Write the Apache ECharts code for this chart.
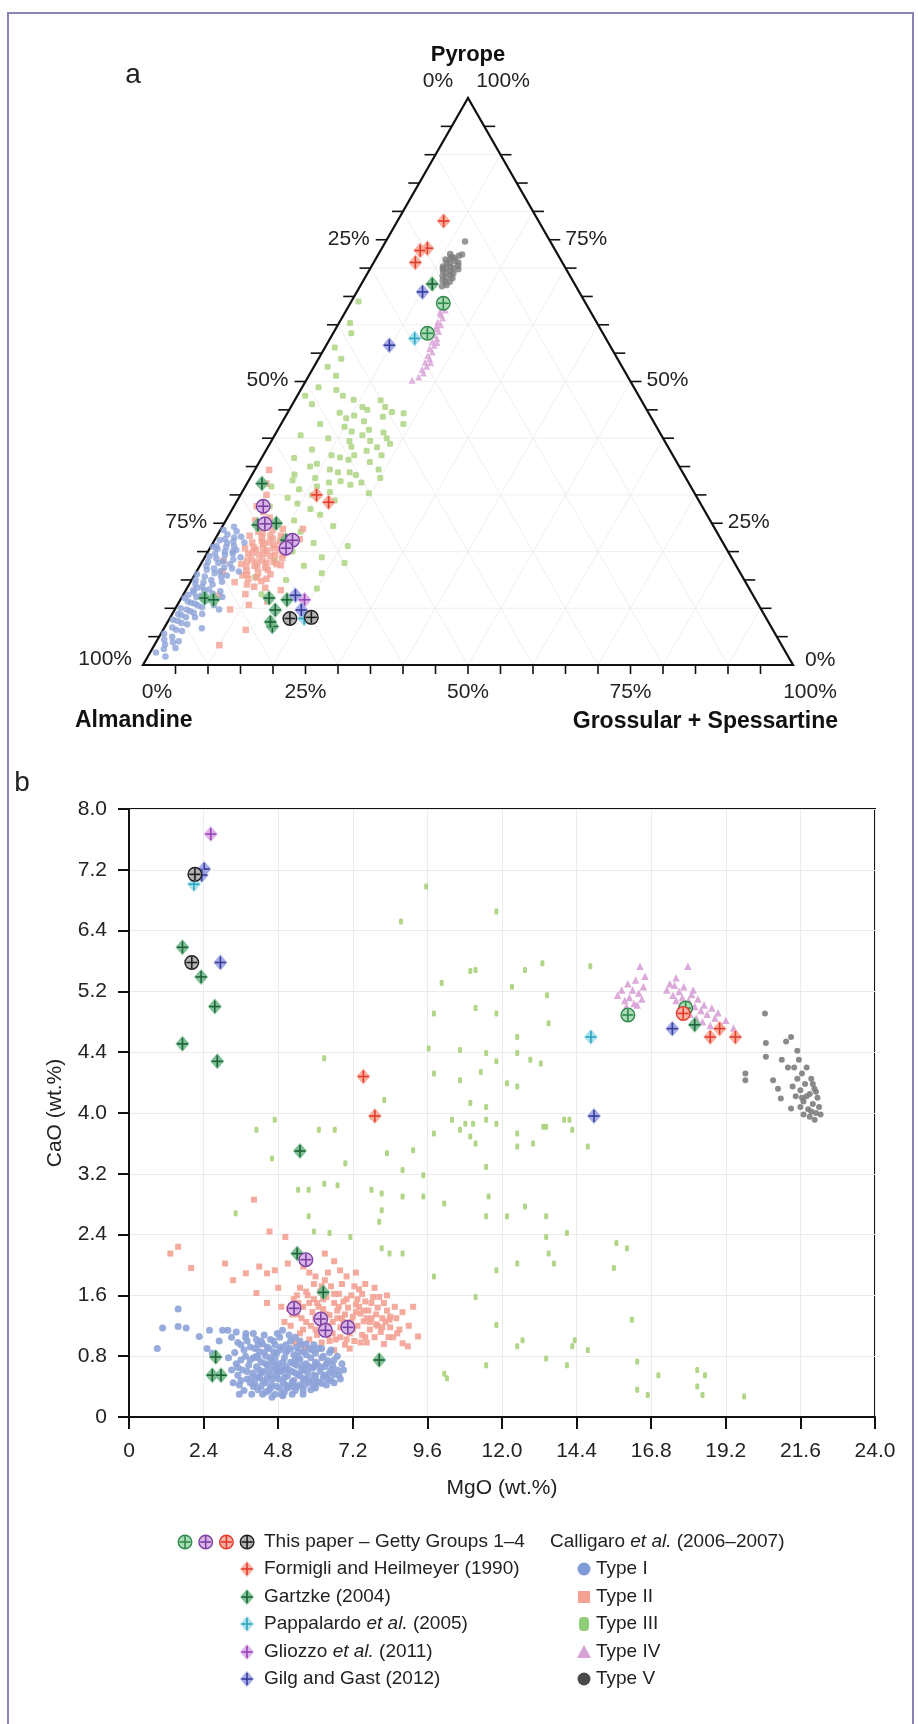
<!DOCTYPE html>
<html><head><meta charset="utf-8">
<script src="https://cdn.jsdelivr.net/npm/echarts/dist/echarts.min.js"></script>
<style>html,body{margin:0;padding:0;background:#fff}#c{width:918px;height:1724px}</style>
</head><body><div id="c"></div><script>
// ---------- DATA ----------
// Panel a (ternary): [Grossular+Spessartine %, Pyrope %]  (Almandine = rest)
const typeI_t = [[1.8,24.4],[0.5,23.8],[1.5,23],[2.8,22.5],[0.8,22],[2.2,21.5],[3.5,21],[1.2,20.5],[2.6,20],[4,19.6],[0.6,19.2],[1.9,18.8],[3.2,18.3],[4.5,17.8],[1,17.5],[2.4,17],[3.6,16.5],[0.3,16],[1.7,15.6],[3,15],[4.8,14.7],[0.9,14.3],[2.2,13.8],[3.5,13.3],[1.4,12.8],[2.8,12.2],[0.5,11.8],[4.2,11.5],[1.9,11],[3.2,10.5],[0.8,10],[2.5,9.5],[1.5,8.8],[3.8,8.4],[0.6,8],[2.2,7.4],[1.2,6.6],[3,6],[0.5,5.5],[2,5],[1.6,3.6],[3.5,3],[0.9,2.2],[2.7,1.5],[5.5,19],[5,15.8],[6.2,12],[4.6,9],[5.8,6.5],[2.6,23.6],[3.8,22.6],[0.4,20.8],[4.2,20.3],[1.1,13.2],[5.4,13],[6.5,16.5],[3.4,4.2],[6.8,9.8],[1.5,22.2],[3,21.8],[0.8,21],[2.4,20.8],[3.8,20],[1.3,19.6],[2.9,19.4],[4.6,18.6],[0.9,18.2],[2.6,18],[3.9,17.2],[1.4,16.8],[2.9,16.2],[4.2,15.6],[0.6,15],[2,14.6],[3.6,14.2],[1.5,13.6],[2.8,13.2],[4.4,12.6],[0.8,12.4],[2.2,12],[3.4,11.6],[1.3,11.2],[2.6,10.8],[4,10.2],[1.8,9.8],[3.2,9.2],[0.9,9],[2.4,8.4],[1.4,7.8],[3.2,7.2],[2,6.2],[1,4.5],[2.6,4],[1.8,2.8],[4.8,21.6],[5.2,17],[5.6,10.6]];
const typeII_t = [[2.2,34.4],[3,32],[4,30],[3.5,28],[5,27],[4.5,25.5],[6.5,26],[5.5,24.5],[7.5,24.8],[6,23.5],[8,23.8],[9.5,24],[5,22.8],[7,22.5],[8.8,22.3],[10.5,22.6],[6,21.6],[7.8,21.4],[9.6,21.2],[11.4,21.5],[5.4,20.6],[7.2,20.4],[9,20.2],[10.8,20.5],[12.2,20.8],[6.4,19.6],[8.2,19.4],[10,19.2],[11.8,19.5],[7.4,18.6],[9.2,18.4],[11,18.2],[6.2,17.8],[8.4,17.5],[10.2,17.2],[12.4,17.6],[7.6,16.6],[9.6,16.2],[11.6,16],[8.6,15.2],[10.8,14.8],[6.8,14.6],[14.6,13.2],[12,13.6],[9.5,12.5],[12.7,6.2],[10,3.5],[8.5,9.8],[11,10.6],[13.5,11.2],[5.5,12.2],[4,16.5],[13,22.2],[12.6,24],[3.2,18.4],[6.8,23.2],[8.2,22.8],[9.8,22.8],[7.4,21.8],[8.6,21.6],[10.2,21.8],[6.6,20.8],[8.2,20.6],[9.8,20.6],[11.2,20.2],[7,19.8],[8.8,19.6],[10.6,19.4],[12,18.8],[6.8,18.4],[8.4,18.2],[10,18],[11.6,17.8],[7.2,17.4],[9,17.2],[10.8,16.8],[8,16],[9.8,15.4],[7.4,15.8],[11.4,15.2],[8.9,14.2],[10.2,13.8]];
const typeIII_t = [[1.1,64.1],[1.7,60.3],[2.1,52.6],[1.5,56],[2.8,58.5],[3.5,54],[4.2,51],[2.5,49],[1.2,47.5],[3,46],[5.5,48.5],[7,47.5],[9,46.8],[13.2,46.7],[11,45.5],[8,44.5],[17.9,44.4],[15,43.8],[12.5,43],[6,42.5],[10,42],[14,41.5],[16.5,41],[4,40.5],[8.5,40],[12,39.5],[18.5,39],[12.8,38.5],[7,38],[15.5,37.8],[10.5,37],[5,36.5],[13.5,36.2],[17,35.8],[9,35.5],[8.2,35],[11.5,34.5],[14.8,34],[6.5,33.6],[19.6,30.3],[10,33],[6.7,32.6],[12.5,32.2],[16,31.8],[4,31.5],[8.5,31],[13.5,30.5],[11,30],[7.5,29.5],[15,29],[9.5,28.5],[5.5,28],[12,27.5],[14,26.5],[10.5,25.5],[17,24.5],[12.5,23.5],[19.4,16.2],[15.5,21.5],[13,20],[18,19],[11,18.5],[16,17.5],[21,21],[14.5,15],[20,13.5],[17.5,12],[12,12.5],[9.5,15.5],[22,18],[10.5,44],[12,45],[14.5,45.5],[16,44.6],[18.8,42.5],[17.5,40],[15.2,39.5],[13.5,40.5],[11.5,41.2],[9.5,43.5],[16.8,38.4],[14,37],[12,36.6],[18.2,37],[19,34.5],[16,33.5],[14.2,32.4],[17.5,32.2],[20,33],[13,34],[11,31.5]];
const typeIV_t = [[14.2,64.5],[14.8,63.8],[14.5,63],[15.2,62.6],[14.9,61.8],[15.5,61.2],[15.1,60.5],[15.8,60],[15.4,59.3],[16.1,58.8],[15.7,58.2],[16.4,57.6],[16,57],[16.6,56.4],[16.2,55.8],[16.9,55.2],[16.5,54.6],[17.1,54],[16.7,53.4],[17.3,52.7],[16.9,52.1],[17.4,51.5],[17,50.8],[15.3,59.8],[16.8,56.9],[14.6,62.2],[17.6,53.3],[16.3,50.2]];
const typeV_t = [[12.2,74.7],[11,72.5],[11.5,72],[12,71.8],[12.5,72.2],[10.8,71.5],[11.2,71],[11.8,70.8],[12.4,71.2],[13,71],[11,70.3],[11.6,70],[12.2,70.2],[12.8,70],[13.3,70.4],[11.4,69.5],[12,69.2],[12.6,69.4],[13.2,69.1],[11.8,68.6],[12.4,68.4],[13,68.7],[13.5,68.2],[12.2,67.8],[12.8,67.5],[13.4,67.6],[12.6,66.8],[13.2,67],[11.5,71.6],[12.9,72.4],[13.6,69.8],[11.2,69.9]];
const thisGreen_t = [[14.3,63.8],[14.5,58.5]];
const thisPurple_t = [[4.5,28.0],[6.3,24.9],[12.0,22.0],[11.7,20.6]];
const thisRed_t = [];
const thisBlack_t = [[18.5,8.2],[21.7,8.4]];
const formigli_t = [[7.1,78.3],[7.0,73.5],[6.1,73.1],[6.4,71.0],[11.7,30.0],[14.2,28.7]];
const gartzke_t = [[10.9,67.2],[2.3,32.0],[5.3,24.7],[8.0,25.0],[11.0,22.0],[3.6,11.8],[5.1,11.5],[13.5,11.8],[16.4,11.5],[15.5,9.7],[16.5,6.8],[15.8,7.6]];
const pappalardo_t = [[13.0,57.6],[20.7,8.2]];
const gliozzo_t = [[19.1,11.5]];
const gilg_t = [[10.1,65.8],[9.7,56.4],[17.3,12.3],[19.5,9.7]];

// Panel b: [MgO wt.%, CaO wt.%]
const typeI_b = [[0.91,0.90],[1.08,1.17],[1.58,1.19],[1.84,1.17],[1.58,1.42],[2.26,1.06],[2.59,1.14],[3.01,1.14],[3.18,1.14],[2.51,0.90],[2.68,0.84],[3.76,1.10],[4.77,1.10],[4.94,1.14],[2.9,1.0],[3.3,1.05],[3.5,0.98],[3.4,0.85],[3.45,0.7],[3.5,0.55],[3.55,0.42],[3.6,0.95],[3.65,0.62],[3.7,0.35],[3.75,0.8],[3.8,0.5],[3.85,0.68],[3.9,0.92],[3.95,0.3],[4.0,0.58],[4.0,0.78],[4.05,0.44],[4.1,1.02],[4.1,0.66],[4.15,0.36],[4.2,0.86],[4.2,0.52],[4.25,0.72],[4.3,0.3],[4.3,0.96],[4.35,0.6],[4.4,0.45],[4.4,0.8],[4.45,0.68],[4.5,0.35],[4.5,0.9],[4.55,0.55],[4.6,0.74],[4.6,0.42],[4.65,1.0],[4.7,0.62],[4.7,0.3],[4.75,0.84],[4.8,0.5],[4.8,0.7],[4.85,0.38],[4.9,0.92],[4.9,0.6],[4.95,0.46],[5.0,0.78],[5.0,0.33],[5.05,0.66],[5.1,0.54],[5.1,0.88],[5.15,0.4],[5.2,0.72],[5.2,1.0],[5.25,0.6],[5.3,0.48],[5.3,0.82],[5.35,0.35],[5.4,0.68],[5.4,0.92],[5.45,0.55],[5.5,0.42],[5.5,0.76],[5.55,0.62],[5.6,0.86],[5.6,0.36],[5.65,0.5],[5.7,0.7],[5.75,0.58],[5.8,0.45],[5.8,0.9],[5.85,0.78],[5.9,0.64],[5.95,0.4],[6.0,0.54],[6.0,0.84],[6.05,0.7],[6.1,0.46],[6.15,0.6],[6.2,0.78],[6.25,0.52],[6.3,0.66],[6.35,0.42],[6.4,0.74],[6.45,0.58],[6.5,0.48],[6.55,0.68],[6.6,0.56],[6.7,0.62],[6.8,0.5],[6.85,0.7],[3.6,0.75],[3.9,0.45],[4.15,0.95],[4.45,0.52],[4.65,0.86],[4.85,0.64],[5.05,0.95],[5.25,0.3],[5.45,0.86],[5.7,0.96],[4.25,0.4],[3.8,1.0],[4.55,1.02],[5.95,0.95],[6.2,0.9],[3.45,1.12],[4.0,1.1],[4.35,1.08],[5.35,1.05],[3.3,0.62],[3.35,0.45],[3.2,0.78],[4.95,0.28],[4.6,0.26],[5.6,0.3],[6.0,0.38],[6.6,0.75],[6.5,0.88],[3.5,0.65],[3.6,0.48],[3.7,0.88],[3.8,0.6],[3.9,0.75],[4.0,0.4],[4.05,0.9],[4.1,0.52],[4.15,0.78],[4.2,0.62],[4.25,1.0],[4.3,0.48],[4.35,0.85],[4.4,0.33],[4.45,0.92],[4.5,0.62],[4.55,0.78],[4.6,0.5],[4.65,0.68],[4.7,0.95],[4.75,0.4],[4.8,0.6],[4.85,0.88],[4.9,0.3],[4.95,0.72],[5.0,0.52],[5.05,0.85],[5.1,0.38],[5.15,0.62],[5.2,0.9],[5.25,0.46],[5.3,0.7],[5.35,0.58],[5.4,0.4],[5.45,0.78],[5.5,0.55],[5.55,0.95],[5.6,0.68],[5.65,0.42],[5.7,0.82],[5.75,0.5],[5.8,0.66],[5.85,0.36],[5.9,0.88],[5.95,0.55],[6.0,0.72],[6.05,0.46],[6.1,0.9],[6.15,0.66],[6.2,0.44],[6.25,0.8],[6.3,0.55],[6.35,0.7],[6.4,0.5],[6.45,0.85],[6.5,0.62],[6.6,0.45],[6.7,0.8],[6.75,0.55],[6.9,0.62],[3.55,0.3],[3.75,1.05],[4.85,1.05],[5.15,1.08],[5.5,1.0],[3.95,0.52],[4.25,0.58],[4.55,0.38],[4.75,0.55],[5.05,0.42],[5.35,0.75],[5.65,0.62],[5.95,0.66],[4.1,0.8],[4.4,0.7],[4.7,0.78],[5.0,0.62],[5.3,0.4],[5.6,0.5],[5.9,0.48]];
const typeII_b = [[4.02,2.86],[1.33,2.15],[1.58,2.24],[2.0,1.96],[3.09,2.02],[4.52,2.44],[5.03,2.37],[4.19,1.98],[4.44,1.89],[4.69,1.93],[5.11,2.02],[5.61,1.98],[3.35,1.80],[3.76,1.89],[6.79,1.93],[9.14,1.45],[9.30,1.06],[8.80,0.97],[8.97,0.93],[8.38,1.28],[8.63,1.10],[4.10,1.63],[4.44,1.50],[6.3,2.15],[6.6,2.05],[7.0,1.85],[7.3,1.9],[4.8,1.7],[4.9,1.45],[5.2,1.2],[5.3,1.55],[5.4,1.35],[5.5,1.7],[5.5,1.1],[5.6,1.45],[5.7,1.25],[5.75,1.6],[5.8,1.02],[5.9,1.38],[5.95,1.75],[6.0,1.15],[6.05,1.5],[6.1,1.3],[6.15,1.65],[6.2,0.98],[6.25,1.42],[6.3,1.2],[6.35,1.58],[6.4,1.08],[6.45,1.34],[6.5,1.72],[6.55,1.25],[6.6,1.5],[6.65,1.02],[6.7,1.4],[6.75,1.62],[6.8,1.18],[6.85,1.3],[6.9,1.52],[6.95,0.95],[7.0,1.22],[7.05,1.44],[7.1,1.1],[7.15,1.6],[7.2,1.32],[7.25,1.0],[7.3,1.48],[7.35,1.2],[7.4,1.68],[7.45,1.36],[7.5,1.08],[7.55,1.26],[7.6,1.52],[7.65,0.98],[7.7,1.4],[7.75,1.15],[7.8,1.3],[7.85,1.58],[7.9,1.05],[7.95,1.22],[8.0,1.44],[8.1,1.12],[8.15,1.3],[8.2,0.96],[8.3,1.4],[8.4,1.18],[8.5,1.05],[8.6,1.3],[8.7,1.15],[5.35,0.98],[5.65,0.9],[6.0,1.85],[5.8,1.9],[6.4,1.9],[7.6,1.75],[7.9,1.7],[8.3,1.6],[5.15,1.42],[5.0,1.25],[7.1,0.9],[6.6,0.88],[8.8,1.38],[9.0,1.2],[5.4,1.6],[5.6,1.15],[5.8,1.5],[6.0,1.3],[6.2,1.72],[6.4,1.2],[6.6,1.62],[6.8,1.05],[7.0,1.55],[7.2,1.15],[7.4,1.45],[7.6,1.05],[7.8,1.5],[8.0,1.2],[8.2,1.5],[8.4,1.32],[5.55,1.3],[5.85,1.2],[6.1,1.45],[6.35,1.35],[6.55,1.1],[6.75,1.45],[6.95,1.35],[7.15,1.25],[7.35,1.55],[7.55,1.4],[7.75,1.25],[7.95,1.35],[8.15,1.18],[8.35,1.05],[5.25,1.35],[5.45,1.5],[5.7,1.65],[6.3,1.8],[6.85,1.75],[7.25,1.72],[7.5,1.62],[8.05,1.58],[8.55,1.45],[6.45,1.0],[7.0,1.02],[7.45,0.98],[6.05,1.08],[6.25,1.55],[6.9,1.25],[7.65,1.3],[8.25,1.25],[5.95,1.55],[6.7,1.3],[7.3,1.38]];
const typeIII_b = [[14.84,5.93],[13.30,5.97],[12.74,5.88],[13.45,5.55],[12.32,5.66],[11.15,5.88],[10.98,5.87],[11.82,5.31],[11.15,5.38],[9.81,5.31],[10.06,5.71],[13.50,5.18],[12.49,5.00],[11.49,4.79],[10.65,4.83],[9.64,4.85],[12.49,4.79],[12.91,4.70],[13.25,4.65],[11.82,4.68],[10.65,4.43],[9.81,4.52],[11.32,4.54],[12.16,4.39],[12.49,4.35],[10.98,4.13],[11.49,4.08],[8.21,4.17],[7.80,3.95],[13.33,3.82],[14.17,3.91],[10.39,3.91],[10.82,3.86],[6.28,4.72],[8.75,6.52],[11.82,6.65],[9.56,6.98],[4.69,3.91],[4.10,3.78],[4.60,3.40],[6.11,3.78],[6.62,3.78],[6.96,3.34],[8.30,3.47],[9.14,3.51],[8.80,3.25],[9.47,3.18],[5.44,2.99],[5.78,2.99],[6.28,3.07],[6.71,3.05],[7.80,2.99],[8.13,2.94],[8.80,2.90],[9.47,2.90],[10.14,2.81],[8.13,2.72],[8.05,2.57],[5.78,2.64],[3.43,2.68],[5.95,2.44],[6.45,2.42],[7.12,2.37],[8.13,2.22],[8.38,2.15],[8.80,2.15],[9.81,1.85],[11.15,1.58],[11.07,3.86],[11.49,3.91],[11.82,3.86],[9.81,3.73],[10.65,3.78],[10.98,3.69],[11.15,3.60],[12.49,3.73],[13.0,3.60],[12.49,3.56],[13.42,3.82],[14.0,3.91],[14.26,3.78],[14.76,3.56],[11.49,3.29],[11.57,2.90],[12.16,2.64],[11.49,2.64],[12.74,2.77],[13.42,2.64],[14.09,2.42],[13.42,2.37],[15.68,2.29],[16.02,2.22],[13.67,2.02],[12.49,2.02],[11.82,1.93],[15.60,1.96],[16.18,1.28],[11.82,1.21],[12.66,1.01],[12.49,0.93],[14.34,1.01],[14.26,0.93],[14.76,0.88],[13.42,0.77],[11.49,0.68],[10.14,0.57],[10.23,0.51],[16.35,0.73],[17.03,0.55],[16.35,0.36],[16.69,0.29],[18.28,0.62],[18.53,0.55],[18.28,0.40],[18.45,0.29],[19.79,0.27],[14.09,0.68],[13.50,2.15]];
const typeIV_b = [[15.72,5.55],[15.85,5.62],[15.95,5.48],[16.05,5.7],[16.1,5.52],[16.2,5.62],[16.25,5.44],[16.3,5.75],[16.4,5.58],[16.44,5.93],[16.5,5.5],[16.55,5.66],[16.6,5.8],[16.0,5.4],[16.35,5.42],[17.3,5.62],[17.4,5.7],[17.5,5.55],[17.55,5.68],[17.6,5.48],[17.7,5.6],[17.75,5.42],[17.8,5.52],[17.85,5.66],[17.9,5.35],[17.98,5.93],[18.0,5.48],[18.05,5.3],[18.1,5.56],[18.2,5.4],[18.25,5.25],[18.3,5.5],[18.4,5.35],[18.45,5.2],[18.5,5.42],[18.6,5.3],[18.7,5.15],[18.75,5.38],[18.85,5.25],[18.95,5.32],[19.05,5.15],[19.2,5.22],[19.45,5.12],[17.6,5.78],[18.15,5.62]];
const typeV_b = [[20.46,5.31],[19.83,4.52],[19.83,4.43],[20.49,4.92],[20.49,4.74],[21.14,4.94],[21.30,5.0],[20.72,4.43],[20.88,4.32],[20.97,4.19],[21.30,4.06],[22.06,3.91],[21.4,4.6],[21.5,4.45],[21.55,4.7],[21.6,4.3],[21.65,4.52],[21.7,4.15],[21.75,4.38],[21.8,4.6],[21.85,4.05],[21.9,4.25],[21.95,4.45],[22.0,4.12],[22.05,4.32],[22.1,4.0],[22.15,4.2],[22.2,4.08],[22.25,3.98],[21.6,4.08],[21.7,3.98],[21.8,4.22],[21.9,3.95],[22.0,4.38],[21.45,4.22],[21.5,4.82],[21.35,4.35],[21.2,4.6],[21.0,4.7],[21.95,4.02],[22.1,4.28],[21.65,4.2]];
const thisGreen_b = [[16.05,5.29],[17.91,5.38]];
const thisPurple_b = [[5.69,2.07],[5.31,1.43],[6.17,1.29],[6.32,1.14],[7.04,1.18]];
const thisRed_b = [[17.83,5.31]];
const thisBlack_b = [[2.12,7.14],[2.02,5.98]];
const formigli_b = [[7.54,4.48],[7.91,3.96],[19.0,5.11],[18.70,5.00],[19.51,5.00]];
const gartzke_b = [[1.72,6.18],[2.32,5.79],[2.76,5.40],[1.72,4.91],[2.84,4.68],[18.20,5.16],[5.50,3.50],[5.41,2.15],[6.25,1.64],[8.05,0.75],[2.79,0.79],[2.68,0.55],[2.96,0.55]];
const pappalardo_b = [[2.09,7.01],[14.86,5.00]];
const gliozzo_b = [[2.63,7.67]];
const gilg_b = [[2.42,7.21],[2.34,7.13],[2.94,5.98],[14.96,3.96],[17.48,5.11]];

// Tick labels
const ternLeftLabels = ['0%','25%','50%','75%','100%'];     // top -> bottom
const ternRightLabels = ['100%','75%','50%','25%','0%'];    // top -> bottom
const ternBottomLabels = ['0%','25%','50%','75%','100%'];   // left -> right
const xTickLabels = ['0','2.4','4.8','7.2','9.6','12.0','14.4','16.8','19.2','21.6','24.0'];
const yTickLabels = ['0','0.8','1.6','2.4','3.2','4.0','4.4','5.2','6.4','7.2','8.0'];

// ---------- STYLE ----------
const FONT = '"Liberation Sans", Arial, sans-serif';
const TXT = '#222';
const SRC = {
  thisGreen:  {kind:'circle',  stroke:'#2f8a4c', fill:'#a9dbb4'},
  thisPurple: {kind:'circle',  stroke:'#7d3fa3', fill:'#d9b6e8'},
  thisRed:    {kind:'circle',  stroke:'#e5392a', fill:'#f7b2a6'},
  thisBlack:  {kind:'circle',  stroke:'#1e1e1e', fill:'#b4b4b4'},
  formigli:   {kind:'diamond', stroke:'#e5392a', fill:'#f7a897'},
  gartzke:    {kind:'diamond', stroke:'#1d6337', fill:'#72b98c'},
  pappalardo: {kind:'diamond', stroke:'#2ba6c2', fill:'#a3dcea'},
  gliozzo:    {kind:'diamond', stroke:'#9a42b8', fill:'#d9abe8'},
  gilg:       {kind:'diamond', stroke:'#363c9c', fill:'#9ca2e2'}
};
const TYPE = {
  I:   {color:'#8ca2d8', sym:'circle'},
  II:  {color:'#f4a193', sym:'rect'},
  III: {color:'#a8d27a', sym:'roundRect'},
  IV:  {color:'#d8a1d6', sym:'triangle'},
  V:   {color:'#7d7d7d', sym:'circle'}
};

function markEls(kind, x, y, stroke, fill) {
  const els = [];
  if (kind === 'circle') {
    els.push({type:'circle', shape:{cx:x, cy:y, r:6.8}, style:{fill:fill, stroke:stroke, lineWidth:1.4}});
  } else {
    els.push({type:'polygon', shape:{points:[[x,y-8],[x+7,y],[x,y+8],[x-7,y]]}, style:{fill:fill, opacity:0.9}});
  }
  els.push({type:'line', shape:{x1:x-5.5, y1:y, x2:x+5.5, y2:y}, style:{stroke:stroke, lineWidth:1.6}});
  els.push({type:'line', shape:{x1:x, y1:y-6, x2:x, y2:y+6}, style:{stroke:stroke, lineWidth:1.6}});
  return els;
}
function tern(arr) { return arr.map(d => [(d[0] + d[1] / 2) / 100, d[1] / 100]); }

function typeSeries(data, t, idx, size, isTern) {
  return {type:'scatter', xAxisIndex:idx, yAxisIndex:idx, data: isTern ? tern(data) : data,
    symbol: TYPE[t].sym, symbolSize: size, silent:true, z:3,
    itemStyle:{color: TYPE[t].color, opacity: isTern ? 0.8 : 0.9}};
}
function litSeries(data, key, idx, isTern) {
  const s = SRC[key];
  return {type:'custom', coordinateSystem:'cartesian2d', xAxisIndex:idx, yAxisIndex:idx, silent:true, z:10,
    data: isTern ? tern(data) : data,
    renderItem: function (params, api) {
      const p = api.coord([api.value(0), api.value(1)]);
      return {type:'group', children: markEls(s.kind, p[0], p[1], s.stroke, s.fill)};
    }};
}

// Ternary frame (outline, faint grid, ticks, tick labels) drawn through grid 0's scales
const ternFrame = {
  type:'custom', coordinateSystem:'cartesian2d', xAxisIndex:0, yAxisIndex:0, silent:true, z:2,
  data:[[0,0]],
  renderItem: function (params, api) {
    const c = (x, y) => api.coord([x, y]);
    const ch = [];
    const faint = {stroke:'#efefef', lineWidth:1};
    for (let k = 1; k < 10; k++) {
      const f = k / 10;
      let a = c(f / 2, f), b = c(1 - f / 2, f);
      ch.push({type:'line', shape:{x1:a[0], y1:a[1], x2:b[0], y2:b[1]}, style:faint});
      a = c(f, 0); b = c(f + (1 - f) / 2, 1 - f);
      ch.push({type:'line', shape:{x1:a[0], y1:a[1], x2:b[0], y2:b[1]}, style:faint});
      a = c(f, 0); b = c(f / 2, f);
      ch.push({type:'line', shape:{x1:a[0], y1:a[1], x2:b[0], y2:b[1]}, style:faint});
    }
    const A = c(0, 0), B = c(1, 0), T = c(0.5, 1);
    ch.push({type:'polygon', shape:{points:[A, B, T]}, style:{fill:null, stroke:'#111', lineWidth:2.2}});
    const tk = {stroke:'#111', lineWidth:1.6};
    for (let i = 1; i < 20; i++) {
      const f = i / 20;
      const L = c(f / 2, f), R = c(1 - f / 2, f), Bt = c(f, 0);
      ch.push({type:'line', shape:{x1:L[0] - 11, y1:L[1], x2:L[0], y2:L[1]}, style:tk});
      ch.push({type:'line', shape:{x1:R[0], y1:R[1], x2:R[0] + 11, y2:R[1]}, style:tk});
      ch.push({type:'line', shape:{x1:Bt[0], y1:Bt[1], x2:Bt[0], y2:Bt[1] + 9}, style:tk});
    }
    const lab = (text, x, y, align) => ({type:'text', style:{text:text, x:x, y:y, align:align, verticalAlign:'middle', fontSize:21, fontFamily:FONT, fill:TXT}});
    [0.75, 0.5, 0.25].forEach((f, j) => {
      const L = c(f / 2, f), R = c(1 - f / 2, f);
      ch.push(lab(ternLeftLabels[j + 1], L[0] - 17, L[1] - 1, 'right'));
      ch.push(lab(ternRightLabels[j + 1], R[0] + 16, R[1] - 1, 'left'));
    });
    ch.push(lab(ternLeftLabels[0], T[0] - 30, T[1] - 17, 'center'));
    ch.push(lab(ternRightLabels[0], T[0] + 35, T[1] - 17, 'center'));
    ch.push(lab(ternLeftLabels[4], A[0] - 11, A[1] - 6, 'right'));
    ch.push(lab(ternRightLabels[4], B[0] + 12, B[1] - 5, 'left'));
    [0, 0.25, 0.5, 0.75, 1].forEach((f, j) => {
      const P = c(f, 0);
      const dx = j === 0 ? 14 : (j === 4 ? 17 : 0);
      ch.push(lab(ternBottomLabels[j], P[0] + dx, P[1] + 27, 'center'));
    });
    return {type:'group', children: ch};
  }
};

// ---------- LEGEND & TITLES (graphic) ----------
const graphics = [];
graphics.push({type:'rect', shape:{x:8, y:13, width:905, height:1730}, style:{fill:null, stroke:'#8886b6', lineWidth:2}});
const txt = (text, x, y, size, opts) => ({type:'text', x:x, y:y, style:Object.assign({text:text, fontSize:size, fontFamily:FONT, fill:TXT, align:'left', verticalAlign:'middle'}, opts || {})});
graphics.push(txt('a', 133, 75, 28, {align:'center'}));
graphics.push(txt('b', 22, 783, 28, {align:'center'}));
graphics.push(txt('Pyrope', 468, 55, 22, {align:'center', fontWeight:'bold', fill:'#111'}));
graphics.push(txt('Almandine', 75, 721, 23, {fontWeight:'bold', fill:'#111'}));
graphics.push(txt('Grossular + Spessartine', 838, 722, 23, {align:'right', fontWeight:'bold', fill:'#111'}));
graphics.push(txt('MgO (wt.%)', 502, 1488, 21, {align:'center'}));
graphics.push({type:'text', x:55, y:1113, rotation:Math.PI / 2, style:{text:'CaO (wt.%)', fontSize:21, fontFamily:FONT, fill:TXT, align:'center', verticalAlign:'middle'}});

const rowY = [1542, 1569, 1597, 1624, 1652, 1679];
function legendMark(key, x, y) {
  const s = SRC[key];
  return {type:'group', children: markEls(s.kind, x, y, s.stroke, s.fill)};
}
['thisGreen','thisPurple','thisRed','thisBlack'].forEach((k, i) => graphics.push(legendMark(k, 185 + i * 20.7, rowY[0])));
const richStyle = {n:{fontSize:19, fontFamily:FONT, fill:TXT}, i:{fontSize:19, fontFamily:FONT, fill:TXT, fontStyle:'italic'}};
const leftLegend = [
  [null, '{n|This paper – Getty Groups 1–4}'],
  ['formigli', '{n|Formigli and Heilmeyer (1990)}'],
  ['gartzke', '{n|Gartzke (2004)}'],
  ['pappalardo', '{n|Pappalardo }{i|et al.}{n| (2005)}'],
  ['gliozzo', '{n|Gliozzo }{i|et al.}{n| (2011)}'],
  ['gilg', '{n|Gilg and Gast (2012)}']
];
leftLegend.forEach((r, i) => {
  if (r[0]) graphics.push(legendMark(r[0], 247, rowY[i]));
  graphics.push({type:'text', x:264, y:rowY[i], style:{text:r[1], rich:richStyle, align:'left', verticalAlign:'middle'}});
});
graphics.push({type:'text', x:550, y:rowY[0], style:{text:'{n|Calligaro }{i|et al.}{n| (2006–2007)}', rich:richStyle, align:'left', verticalAlign:'middle'}});
const typeLegend = [['I','Type I'],['II','Type II'],['III','Type III'],['IV','Type IV'],['V','Type V']];
typeLegend.forEach((r, i) => {
  const y = rowY[i + 1], x = 584;
  let el;
  if (r[0] === 'II') el = {type:'rect', shape:{x:x - 6, y:y - 6, width:12, height:12}, style:{fill:TYPE.II.color}};
  else if (r[0] === 'IV') el = {type:'polygon', shape:{points:[[x, y - 7], [x + 7, y + 6], [x - 7, y + 6]]}, style:{fill:TYPE.IV.color}};
  else if (r[0] === 'III') el = {type:'rect', shape:{x:x - 5, y:y - 7, width:10, height:14, r:4}, style:{fill:'#8fcf7a'}};
  else el = {type:'circle', shape:{cx:x, cy:y, r:6.5}, style:{fill: r[0] === 'V' ? '#4a4a4a' : '#7f9ad6'}};
  graphics.push(el);
  graphics.push(txt(r[1], 596, y, 19));
});

// ---------- OPTION ----------
const axisB = {color:'#111', width:2};
const option = {
  animation:false,
  backgroundColor:'#fff',
  grid:[
    {left:143, top:98, width:650, height:567, show:false},
    {left:129, top:809, width:746, height:608, show:true, borderColor:'#111', borderWidth:2, backgroundColor:'transparent'}
  ],
  xAxis:[
    {gridIndex:0, type:'value', min:0, max:1, show:false},
    {gridIndex:1, type:'value', min:0, max:24, interval:2.4,
      axisLine:{lineStyle:axisB}, axisTick:{length:12, lineStyle:{color:'#111', width:2}},
      axisLabel:{fontSize:21, fontFamily:FONT, color:TXT, margin:24, formatter:v => xTickLabels[Math.round(v / 2.4)]},
      splitLine:{show:true, lineStyle:{color:'#ebebeb', width:1}}}
  ],
  yAxis:[
    {gridIndex:0, type:'value', min:0, max:1, show:false},
    {gridIndex:1, type:'value', min:0, max:8, interval:0.8,
      axisLine:{lineStyle:axisB}, axisTick:{length:11, lineStyle:{color:'#111', width:2}},
      axisLabel:{fontSize:21, fontFamily:FONT, color:TXT, margin:22, formatter:v => yTickLabels[Math.round(v / 0.8)]},
      splitLine:{show:true, lineStyle:{color:'#ebebeb', width:1}}}
  ],
  graphic: graphics,
  series:[
    ternFrame,
    typeSeries(typeIII_t, 'III', 0, 6, true),
    typeSeries(typeII_t, 'II', 0, 6.5, true),
    typeSeries(typeI_t, 'I', 0, 6.5, true),
    typeSeries(typeIV_t, 'IV', 0, 7, true),
    typeSeries(typeV_t, 'V', 0, 6.5, true),
    litSeries(formigli_t, 'formigli', 0, true),
    litSeries(gartzke_t, 'gartzke', 0, true),
    litSeries(pappalardo_t, 'pappalardo', 0, true),
    litSeries(gliozzo_t, 'gliozzo', 0, true),
    litSeries(gilg_t, 'gilg', 0, true),
    litSeries(thisGreen_t, 'thisGreen', 0, true),
    litSeries(thisPurple_t, 'thisPurple', 0, true),
    litSeries(thisRed_t, 'thisRed', 0, true),
    litSeries(thisBlack_t, 'thisBlack', 0, true),
    typeSeries(typeIII_b, 'III', 1, [4, 6], false),
    typeSeries(typeII_b, 'II', 1, 6, false),
    typeSeries(typeI_b, 'I', 1, 7, false),
    typeSeries(typeIV_b, 'IV', 1, 7.5, false),
    typeSeries(typeV_b, 'V', 1, 6, false),
    litSeries(formigli_b, 'formigli', 1, false),
    litSeries(gartzke_b, 'gartzke', 1, false),
    litSeries(pappalardo_b, 'pappalardo', 1, false),
    litSeries(gliozzo_b, 'gliozzo', 1, false),
    litSeries(gilg_b, 'gilg', 1, false),
    litSeries(thisGreen_b, 'thisGreen', 1, false),
    litSeries(thisPurple_b, 'thisPurple', 1, false),
    litSeries(thisRed_b, 'thisRed', 1, false),
    litSeries(thisBlack_b, 'thisBlack', 1, false)
  ]
};
const chart = echarts.init(document.getElementById('c'), null, {renderer:'canvas'});
chart.setOption(option);
</script></body></html>
